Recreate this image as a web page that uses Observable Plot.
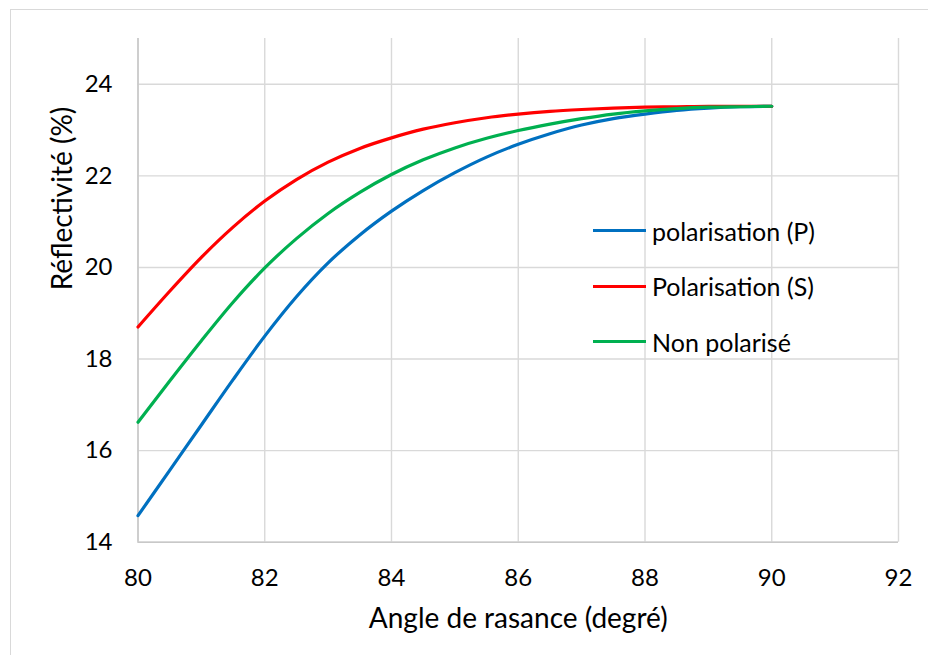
<!DOCTYPE html>
<html>
<head>
<meta charset="utf-8">
<script src="https://cdn.jsdelivr.net/npm/d3@7"></script>
<script src="https://cdn.jsdelivr.net/npm/@observablehq/plot@0.6"></script>
<style>
  html, body { margin: 0; padding: 0; background: #fff; }
  #wrap { position: relative; width: 928px; height: 655px; overflow: hidden; font-family: Lato, "Open Sans", sans-serif; }
  #border { position: absolute; left: 10px; top: 9px; width: 940px; height: 700px; border: 1.5px solid #d9d9d9; box-sizing: border-box; }
  #chart { position: absolute; left: 0; top: 0; }
  #legend { position: absolute; left: 593px; top: 203px; }
  .item { display: flex; align-items: center; height: 55.5px; font-size: 25px; color: #000; white-space: nowrap; }
  .item .sw { width: 53px; height: 3.2px; margin-right: 6px; }
</style>
</head>
<body>
<div id="wrap">
  <div id="border"></div>
  <div id="chart"></div>
  <div id="legend"></div>
</div>
<script>
const angles = [80, 80.5, 81, 81.5, 82, 82.5, 83, 83.5, 84, 84.5, 85, 85.5, 86, 86.5, 87, 87.5, 88, 88.5, 89, 89.5, 90];
const polP = [14.58, 15.57, 16.56, 17.55, 18.50, 19.36, 20.10, 20.71, 21.23, 21.68, 22.07, 22.41, 22.69, 22.92, 23.11, 23.25, 23.35, 23.43, 23.48, 23.51, 23.52];
const polS = [18.70, 19.48, 20.22, 20.88, 21.45, 21.92, 22.30, 22.60, 22.83, 23.02, 23.16, 23.27, 23.35, 23.41, 23.45, 23.48, 23.50, 23.51, 23.52, 23.52, 23.52];
const nonPol = [16.62, 17.52, 18.40, 19.24, 19.99, 20.63, 21.18, 21.64, 22.03, 22.35, 22.61, 22.82, 22.99, 23.13, 23.25, 23.35, 23.42, 23.47, 23.50, 23.51, 23.52];

const seriesNames = ["polarisation (P)", "Polarisation (S)", "Non polarisé"];
const seriesColors = ["#0070C0", "#FF0000", "#00B050"];
const seriesValues = [polP, polS, nonPol];

const xTicks = [80, 82, 84, 86, 88, 90, 92];
const yTicks = [14, 16, 18, 20, 22, 24];
const xTitle = "Angle de rasance (degré)";
const yTitle = "Réflectivité (%)";

const rows = [];
seriesNames.forEach((name, i) => {
  angles.forEach((a, j) => rows.push({series: name, angle: a, value: seriesValues[i][j]}));
});

const chart = Plot.plot({
  width: 928,
  height: 655,
  marginLeft: 137.5,
  marginRight: 30,
  marginTop: 38,
  marginBottom: 113.3,
  style: {fontFamily: "Lato, 'Open Sans', sans-serif", background: "transparent", color: "#000"},
  x: {domain: [80, 92]},
  y: {domain: [14, 25]},
  color: {domain: seriesNames, range: seriesColors},
  marks: [
    Plot.gridX(xTicks, {stroke: "#d9d9d9", strokeOpacity: 1, strokeWidth: 1.4}),
    Plot.gridY(yTicks, {stroke: "#d9d9d9", strokeOpacity: 1, strokeWidth: 1.4}),
    Plot.ruleX([80], {stroke: "#c8c8c8", strokeWidth: 1.6}),
    Plot.ruleY([14], {stroke: "#c8c8c8", strokeWidth: 1.6}),
    Plot.axisX(xTicks, {tickSize: 0, tickPadding: 27, fontSize: 24, label: null}),
    Plot.axisY(yTicks, {tickSize: 0, tickPadding: 25.5, fontSize: 24, label: null}),
    Plot.line(rows, {x: "angle", y: "value", z: "series", stroke: "series", strokeWidth: 3.2, curve: "monotone-x"}),
    Plot.text([xTitle], {frameAnchor: "bottom", dy: 86, fontSize: 28, text: d => d}),
    Plot.text([yTitle], {frameAnchor: "left", dx: -74.5, rotate: -90, fontSize: 28, text: d => d})
  ]
});
document.getElementById("chart").appendChild(chart);

const legend = document.getElementById("legend");
seriesNames.forEach((name, i) => {
  const item = document.createElement("div");
  item.className = "item";
  const sw = document.createElement("span");
  sw.className = "sw";
  sw.style.background = seriesColors[i];
  const label = document.createElement("span");
  label.textContent = name;
  item.appendChild(sw);
  item.appendChild(label);
  legend.appendChild(item);
});
</script>
</body>
</html>
